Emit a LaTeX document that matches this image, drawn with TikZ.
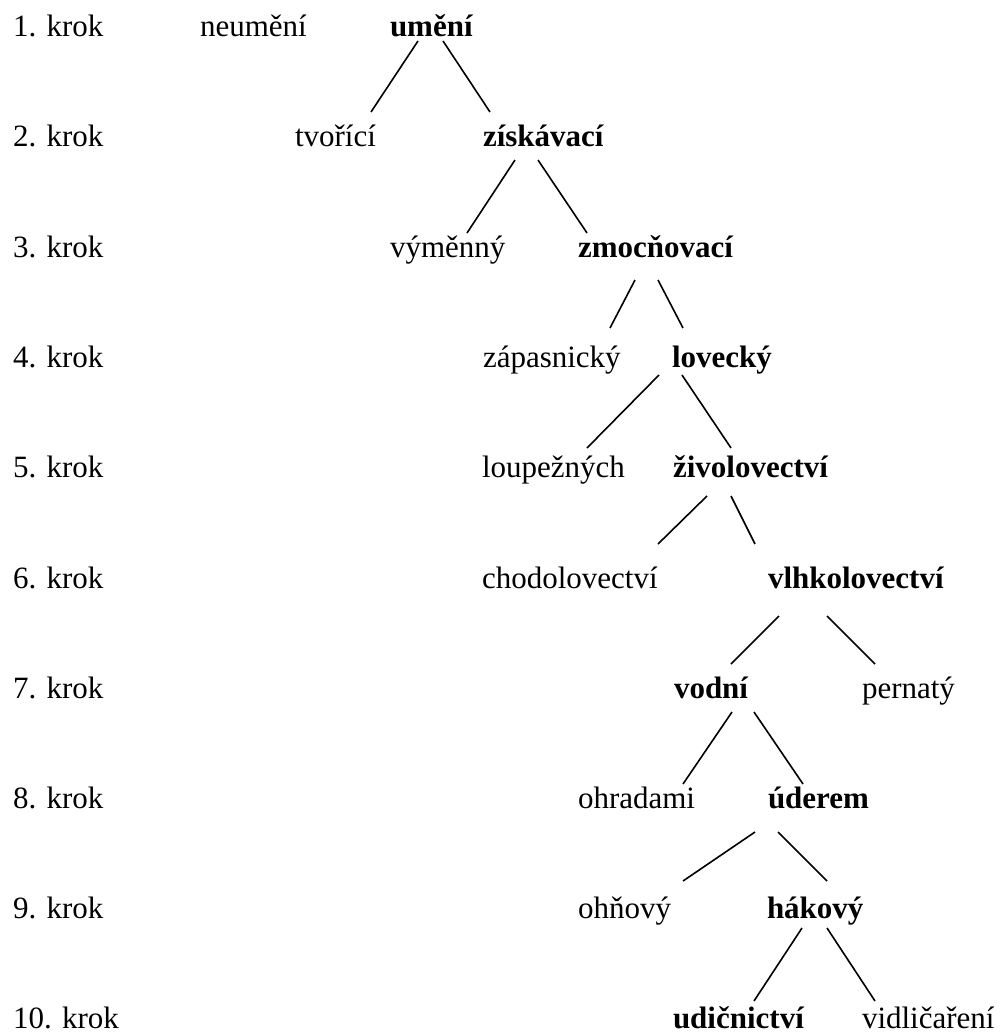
\documentclass[tikz,border=0pt]{standalone}
\usepackage{fontspec}
\setmainfont{Liberation Serif}
\begin{document}
\begin{tikzpicture}[x=1pt,y=-1pt,
  lbl/.style={anchor=base west,inner sep=0pt,outer sep=0pt,font=\fontsize{31}{36}\selectfont},
  sel/.style={lbl,font=\fontsize{31}{36}\selectfont\bfseries},
  edge/.style={line width=1.6pt,black}]
\useasboundingbox (0,0) rectangle (1003,1034);
% step labels
\node[lbl] (k1) at (13,36) {1. krok};
\node[lbl] (k2) at (13,146) {2. krok};
\node[lbl] (k3) at (13,257) {3. krok};
\node[lbl] (k4) at (13,367) {4. krok};
\node[lbl] (k5) at (13,477) {5. krok};
\node[lbl] (k6) at (13,588) {6. krok};
\node[lbl] (k7) at (13,698) {7. krok};
\node[lbl] (k8) at (13,808) {8. krok};
\node[lbl] (k9) at (13,918) {9. krok};
\node[lbl] (k10) at (13,1028) {10. krok};
% tree
\node[lbl] (neumeni) at (200,36) {neumění};
\node[sel] (umeni) at (390,36) {umění};
\node[lbl] (tvorici) at (295,146) {tvořící};
\node[sel] (ziskavaci) at (483,146) {získávací};
\node[lbl] (vymenny) at (390,257) {výměnný};
\node[sel] (zmocnovaci) at (578,257) {zmocňovací};
\node[lbl] (zapasnicky) at (483,367) {zápasnický};
\node[sel] (lovecky) at (672,367) {lovecký};
\node[lbl] (loupeznych) at (482,477) {loupežných};
\node[sel] (zivolov) at (673,477) {živolovectví};
\node[lbl] (chodolov) at (482,588) {chodolovectví};
\node[sel] (vlhkolov) at (768,588) {vlhkolovectví};
\node[sel] (vodni) at (674,698) {vodní};
\node[lbl] (pernaty) at (862,698) {pernatý};
\node[lbl] (ohradami) at (578,808) {ohradami};
\node[sel] (uderem) at (768,808) {úderem};
\node[lbl] (ohnovy) at (578,918) {ohňový};
\node[sel] (hakovy) at (767,918) {hákový};
\node[sel] (udicnictvi) at (673,1028) {udičnictví};
\node[lbl] (vidlicareni) at (862,1028) {vidličaření};
% connectors
\draw[edge] ([shift={(28,5)}]umeni.base west) -- ([shift={(76,-34)}]tvorici.base west);
\draw[edge] ([shift={(53,5)}]umeni.base west) -- ([shift={(7,-34)}]ziskavaci.base west);
\draw[edge] ([shift={(32,14)}]ziskavaci.base west) -- ([shift={(77,-24)}]vymenny.base west);
\draw[edge] ([shift={(55,14)}]ziskavaci.base west) -- ([shift={(9,-24)}]zmocnovaci.base west);
\draw[edge] ([shift={(57,23)}]zmocnovaci.base west) -- ([shift={(127,-39)}]zapasnicky.base west);
\draw[edge] ([shift={(80,23)}]zmocnovaci.base west) -- ([shift={(11,-39)}]lovecky.base west);
\draw[edge] ([shift={(-13,8)}]lovecky.base west) -- ([shift={(105,-29)}]loupeznych.base west);
\draw[edge] ([shift={(10,8)}]lovecky.base west) -- ([shift={(58,-29)}]zivolov.base west);
\draw[edge] ([shift={(34,19)}]zivolov.base west) -- ([shift={(176,-44)}]chodolov.base west);
\draw[edge] ([shift={(58,19)}]zivolov.base west) -- ([shift={(-13,-44)}]vlhkolov.base west);
\draw[edge] ([shift={(11,28)}]vlhkolov.base west) -- ([shift={(57,-34)}]vodni.base west);
\draw[edge] ([shift={(59,28)}]vlhkolov.base west) -- ([shift={(13,-34)}]pernaty.base west);
\draw[edge] ([shift={(58,14)}]vodni.base west) -- ([shift={(105,-24)}]ohradami.base west);
\draw[edge] ([shift={(80,14)}]vodni.base west) -- ([shift={(35,-24)}]uderem.base west);
\draw[edge] ([shift={(-13,24)}]uderem.base west) -- ([shift={(105,-37)}]ohnovy.base west);
\draw[edge] ([shift={(10,24)}]uderem.base west) -- ([shift={(60,-37)}]hakovy.base west);
\draw[edge] ([shift={(35,10)}]hakovy.base west) -- ([shift={(81,-27)}]udicnictvi.base west);
\draw[edge] ([shift={(60,10)}]hakovy.base west) -- ([shift={(13,-27)}]vidlicareni.base west);
\end{tikzpicture}
\end{document}
